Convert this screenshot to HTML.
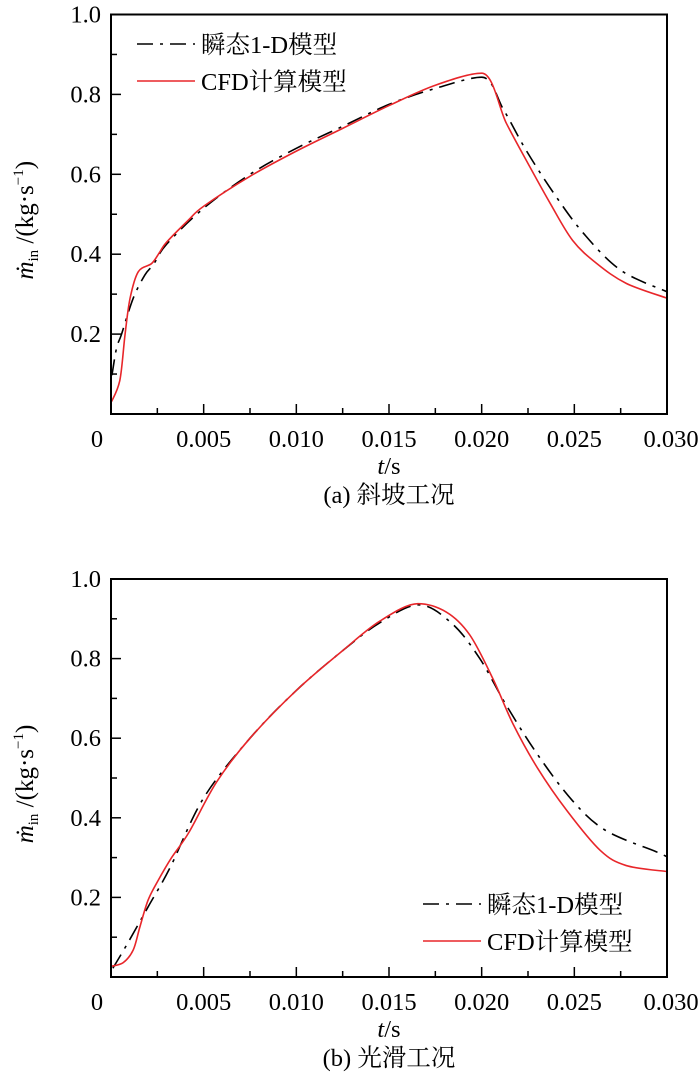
<!DOCTYPE html>
<html><head><meta charset="utf-8">
<style>
body{margin:0;background:#fff;}
svg text{font-family:"Liberation Serif","Noto Serif CJK SC",serif;fill:#000;}
</style></head>
<body>
<svg id="fig" width="700" height="1084" xmlns="http://www.w3.org/2000/svg"></svg>
<script>
// ----- data -----
const xTicks = [0, 0.005, 0.010, 0.015, 0.020, 0.025, 0.030];
const xTickLabels = ["0", "0.005", "0.010", "0.015", "0.020", "0.025", "0.030"];
const yTicks = [0.2, 0.4, 0.6, 0.8, 1.0];
const yTickLabels = ["0.2", "0.4", "0.6", "0.8", "1.0"];

const aOneDT = [0.00005,0.0003,0.00057,0.0012,0.00183,0.0023,0.003,0.005,0.0075,0.010,0.0125,0.015,0.0175,0.020,0.0212,0.0224,0.0239,0.0255,0.0275,0.030];
const aOneDV = [0.097,0.165,0.20,0.29,0.348,0.375,0.425,0.515,0.60,0.665,0.72,0.775,0.815,0.843,0.76,0.66,0.552,0.452,0.36,0.306];
const aCfdT = [0.00003,0.00048,0.00076,0.00103,0.00147,0.0022,0.00264,0.003,0.00417,0.005,0.0075,0.010,0.0125,0.015,0.0175,0.0200,0.02134,0.0225,0.0237,0.0249,0.0262,0.0278,0.030];
const aCfdV = [0.031,0.085,0.20,0.29,0.356,0.377,0.406,0.43,0.485,0.52,0.595,0.658,0.715,0.772,0.823,0.853,0.727,0.627,0.527,0.435,0.377,0.327,0.29];

const bOneDT = [0.0001,0.0009,0.002,0.0032,0.005,0.0075,0.010,0.0125,0.0145,0.0166,0.0184,0.0199,0.0213,0.023,0.0249,0.0267,0.0294,0.030];
const bOneDV = [0.022,0.085,0.176,0.276,0.45,0.60,0.72,0.82,0.89,0.935,0.888,0.80,0.685,0.56,0.443,0.368,0.315,0.302];
const bCfdT = [0.00003,0.00066,0.0012,0.00156,0.002,0.00255,0.00327,0.0042,0.0057,0.0075,0.010,0.0125,0.0145,0.01656,0.01809,0.01935,0.0206,0.0217,0.0230,0.0246,0.0264,0.0278,0.030];
const bCfdV = [0.027,0.036,0.068,0.126,0.193,0.243,0.30,0.363,0.49,0.60,0.72,0.82,0.894,0.938,0.917,0.86,0.75,0.635,0.526,0.418,0.318,0.28,0.265];

const NS = "http://www.w3.org/2000/svg";
const svg = document.getElementById("fig");
function mk(tag, attrs, parent){
  const e = document.createElementNS(NS, tag);
  for (const k in attrs) e.setAttribute(k, attrs[k]);
  (parent||svg).appendChild(e);
  return e;
}
function tangent(pts, i){
  const p0 = pts[Math.max(0,i-1)], p1 = pts[i], p2 = pts[Math.min(pts.length-1,i+1)];
  let tx = (p2[0]-p0[0])/2, ty = (p2[1]-p0[1])/2;
  if (i>0 && i<pts.length-1 && (p1[1]-p0[1])*(p2[1]-p1[1]) <= 0) ty = 0;
  return [tx, ty];
}
function smooth(pts){
  let d = "M" + pts[0][0] + "," + pts[0][1];
  for (let i=0;i<pts.length-1;i++){
    const p1 = pts[i], p2 = pts[i+1];
    const t1 = tangent(pts,i), t2 = tangent(pts,i+1);
    const c1x = p1[0]+t1[0]/3, c1y = p1[1]+t1[1]/3;
    const c2x = p2[0]-t2[0]/3, c2y = p2[1]-t2[1]/3;
    d += " C"+c1x+","+c1y+" "+c2x+","+c2y+" "+p2[0]+","+p2[1];
  }
  return d;
}

function panel(cfg){
  const x0=111, x1=667, yTop=cfg.yTop, yBot=cfg.yBot;
  const sx = t => x0 + (t/0.030)*(x1-x0);
  const sy = v => yBot - v*(yBot-yTop);
  const g = mk("g", {});
  
  
  xTicks.forEach((t,i)=>{
    const l = mk("line",{x1:sx(t),x2:sx(t),y1:yBot,y2:yBot-10,stroke:"#000","stroke-width":1.5},g);
    
    
    if (i<xTicks.length-1){
      const m = sx(t+0.0025);
      const l2 = mk("line",{x1:m,x2:m,y1:yBot,y2:yBot-6,stroke:"#000","stroke-width":1.5},g);
      
      
    }
    const tx = mk("text",{x:i===0?97:(i===xTicks.length-1?sx(t)+4:sx(t)),y:yBot+33,"font-size":24.5,"text-anchor":"middle"},g);
    tx.textContent = xTickLabels[i];
    
    
  });
  yTicks.forEach((v,i)=>{
    const l = mk("line",{x1:x0,x2:x0+10,y1:sy(v),y2:sy(v),stroke:"#000","stroke-width":1.5},g);
    
    
    const l2 = mk("line",{x1:x0,x2:x0+6,y1:sy(v-0.1),y2:sy(v-0.1),stroke:"#000","stroke-width":1.5},g);
    
    
    const tx = mk("text",{x:x0-10,y:sy(v)+8,"font-size":24.5,"text-anchor":"end"},g);
    tx.textContent = yTickLabels[i];
    
    
  });
  const clip = "clip-"+cfg.name;
  const cp = mk("clipPath",{id:clip},g);
  mk("rect",{x:x0,y:yTop,width:x1-x0,height:yBot-yTop},cp);
  const p1 = mk("path",{d:smooth(cfg.oneT.map((t,i)=>[sx(t),sy(cfg.oneV[i])])),fill:"none",stroke:"#000","stroke-width":1.6,"stroke-dasharray":"16 7 3 7","clip-path":"url(#"+clip+")"},g);
  
  
  const p2 = mk("path",{d:smooth(cfg.cfdT.map((t,i)=>[sx(t),sy(cfg.cfdV[i])])),fill:"none",stroke:"#e8262a","stroke-width":1.6,"clip-path":"url(#"+clip+")"},g);
  
  
  const fr = mk("rect",{x:x0,y:yTop,width:x1-x0,height:yBot-yTop,fill:"none",stroke:"#000","stroke-width":2},g);
  
  
  const lg = mk("g",{},g);
  
  
  const a = mk("line",{x1:cfg.lx,x2:cfg.lx+58,y1:cfg.ly,y2:cfg.ly,stroke:"#000","stroke-width":1.6,"stroke-dasharray":"16 7 3 7"},lg);
  
  
  const at = mk("text",{x:cfg.lx+64,y:cfg.ly+9,"font-size":24.5},lg);
  at.textContent="瞬态1-D模型";
  
  
  const b = mk("line",{x1:cfg.lx,x2:cfg.lx+58,y1:cfg.ly+37,y2:cfg.ly+37,stroke:"#e8262a","stroke-width":1.6},lg);
  
  
  const bt = mk("text",{x:cfg.lx+64,y:cfg.ly+46,"font-size":24.5},lg);
  bt.textContent="CFD计算模型";
  
  
  const xt = mk("text",{x:389,y:yBot+60,"font-size":24.5,"text-anchor":"middle"},g);
  xt.innerHTML = '<tspan font-style="italic">t</tspan>/s';
  
  
  const cy = (yTop+yBot)/2 + 6;
  const yt = mk("text",{x:0,y:0,"font-size":25,"text-anchor":"middle",transform:"translate(33,"+cy+") rotate(-90)"},g);
  yt.innerHTML = '<tspan font-style="italic">ṁ</tspan><tspan font-size="15" dy="5">in</tspan><tspan dy="-5"> /(kg·s</tspan><tspan font-size="15" dy="-10">−1</tspan><tspan dy="10">)</tspan>';
  
  
  const cap = mk("text",{x:389,y:yBot+89,"font-size":24.5,"text-anchor":"middle"},g);
  cap.textContent = cfg.caption;
  
  
}
panel({name:"panel-a-ramp",yTop:14.5,yBot:414,oneT:aOneDT,oneV:aOneDV,cfdT:aCfdT,cfdV:aCfdV,lx:137,ly:44,caption:"(a) 斜坡工况"});
panel({name:"panel-b-smooth",yTop:579,yBot:977,oneT:bOneDT,oneV:bOneDV,cfdT:bCfdT,cfdV:bCfdV,lx:423,ly:904,caption:"(b) 光滑工况"});
</script>
</body></html>
